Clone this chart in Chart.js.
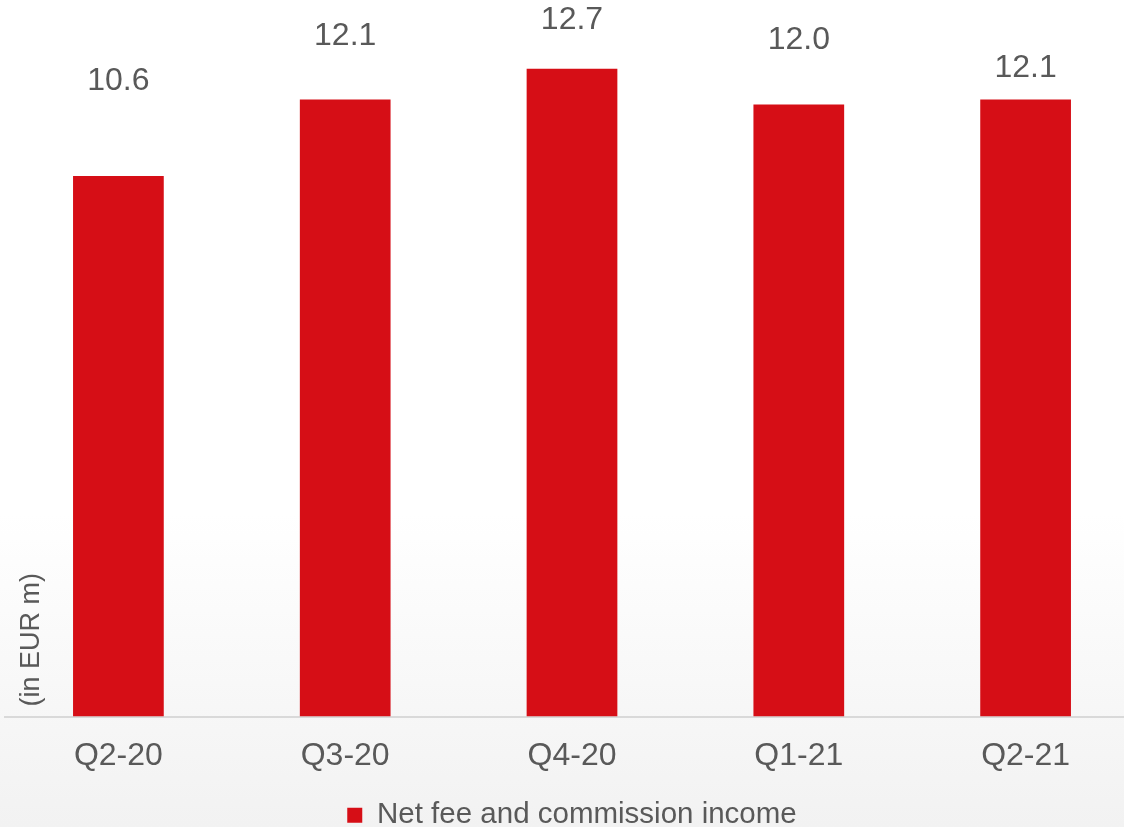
<!DOCTYPE html>
<html>
<head>
<meta charset="utf-8">
<script src="https://cdn.jsdelivr.net/npm/chart.js@4.4.0/dist/chart.umd.min.js"></script>
<style>
    html, body { margin: 0; padding: 0; overflow: hidden; }
    body {
        width: 1124px; height: 827px;
        background: linear-gradient(to bottom, #ffffff 0%, #ffffff 62%, #f2f2f2 100%);
    }
    #wrap { width: 1140px; height: 840px; position: relative; }
</style>
</head>
<body>
<div id="wrap"><canvas id="feeChart"></canvas></div>
<script>
// Data for net fee and commission income
const quarters = ['Q2-20', 'Q3-20', 'Q4-20', 'Q1-21', 'Q2-21'];
const feeIncome = [10.6, 12.1, 12.7, 12.0, 12.1];
const seriesName = 'Net fee and commission income';
const unitLabel = '(in EUR m)';

// how far each value label sits above its bar (px), matches the slide layout
const labelLift = [95, 63, 49, 64, 31];

const textGray = '#595959';
const barRed = '#d60e16';
const fontFamily = '"Liberation Sans", Arial, sans-serif';

// Draw value labels above the bars and the unit text
const valueLabels = {
    id: 'valueLabels',
    afterDatasetsDraw(chart) {
        const ctx = chart.ctx;
        const meta = chart.getDatasetMeta(0);
        ctx.save();
        ctx.fillStyle = textGray;
        ctx.font = '32px ' + fontFamily;
        ctx.textAlign = 'center';
        ctx.textBaseline = 'middle';
        meta.data.forEach((bar, i) => {
            ctx.fillText(feeIncome[i].toFixed(1), bar.x, bar.y - labelLift[i]);
        });
        // unit text, rotated, bottom-left of plot
        const area = chart.chartArea;
        ctx.translate(area.left + 27, area.bottom - 10);
        ctx.rotate(-Math.PI / 2);
        ctx.font = '27px ' + fontFamily;
        ctx.textAlign = 'left';
        ctx.fillText(unitLabel, 0, 0);
        ctx.restore();
    }
};

const feeConfig = {
    type: 'bar',
    data: {
        labels: quarters,
        datasets: [{
            label: seriesName,
            data: feeIncome,
            backgroundColor: barRed,
            borderWidth: 0,
            barPercentage: 0.4,
            categoryPercentage: 1.0
        }]
    },
    options: {
        responsive: true,
        maintainAspectRatio: false,
        animation: false,
        layout: { padding: { left: 5, right: 1, top: 0, bottom: 0 } },
        scales: {
            y: {
                display: false,
                min: 0,
                max: 14.05
            },
            x: {
                grid: { display: false },
                border: { display: true, color: '#d9d9d9', width: 2 },
                ticks: {
                    color: textGray,
                    padding: 12,
                    font: { family: fontFamily, size: 32 }
                },
                afterFit(scale) {
                    scale.height = 84;
                }
            }
        },
        plugins: {
            legend: {
                display: true,
                position: 'bottom',
                labels: {
                    color: textGray,
                    boxWidth: 15,
                    boxHeight: 15,
                    padding: 0,
                    font: { family: fontFamily, size: 29.5 }
                }
            },
            tooltip: { enabled: false }
        }
    },
    plugins: [valueLabels]
};

const feeCtx = document.getElementById('feeChart').getContext('2d');
new Chart(feeCtx, feeConfig);
</script>
</body>
</html>
